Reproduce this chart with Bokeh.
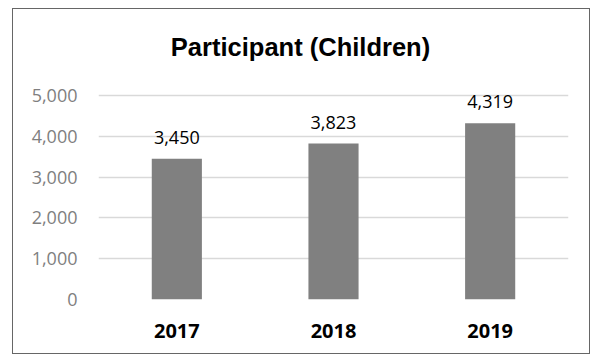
from bokeh.plotting import figure
from bokeh.models import ColumnDataSource, LabelSet, Label, NumeralTickFormatter, FixedTicker, Range1d
from bokeh.core.properties import value
from bokeh.embed import file_html
from bokeh.resources import INLINE

years = ["2017", "2018", "2019"]
participants = [3450, 3823, 4319]
labels = ["3,450", "3,823", "4,319"]
y_ticks = [0, 1000, 2000, 3000, 4000, 5000]
title_text = "Participant (Children)"

src = ColumnDataSource(dict(years=years, participants=participants, labels=labels))

# frame extends above the 5,000 gridline to leave room for the title (287 px tall, 5,000 at 204 px)
y_top = 5000 * 287 / 204

p = figure(x_range=years, y_range=Range1d(0, y_top), output_backend="svg", toolbar_location=None,
           frame_width=470, frame_height=287, min_border_left=85, min_border_right=21,
           min_border_top=3, min_border_bottom=54)
p.margin = (8, 0, 0, 12)
p.styles = {"border": "1px solid #666666"}
p.outline_line_color = None
p.background_fill_color = "white"
p.border_fill_color = "white"

title = Label(x=202, y=253, x_units="screen", y_units="screen", text=title_text,
              text_align="center", text_baseline="alphabetic", text_font="Liberation Sans",
              text_font_size="25.5px", text_font_style="bold", text_color="black")
p.add_layout(title)

p.vbar(x="years", top="participants", width=0.32, source=src, fill_color="#808080", line_color=None)

lab = LabelSet(x="years", y="participants", text="labels", source=src, text_align="center",
               text_baseline="alphabetic", y_offset=15, text_font=value("Open Sans"),
               text_font_size=value("18px"), text_color="black")
p.add_layout(lab)

p.yaxis.ticker = FixedTicker(ticks=y_ticks)
p.yaxis.formatter = NumeralTickFormatter(format="0,0")
p.yaxis.axis_line_color = None
p.yaxis.major_tick_line_color = None
p.yaxis.minor_tick_line_color = None
p.yaxis.major_tick_in = 0
p.yaxis.major_tick_out = 0
p.yaxis.major_label_standoff = 21
p.yaxis.major_label_text_font = "Open Sans"
p.yaxis.major_label_text_font_size = "18px"
p.yaxis.major_label_text_color = "#7f7f7f"

p.xaxis.axis_line_color = None
p.xaxis.major_tick_line_color = None
p.xaxis.major_tick_in = 0
p.xaxis.major_tick_out = 0
p.xaxis.major_label_standoff = 24
p.xaxis.major_label_text_font = "Open Sans"
p.xaxis.major_label_text_font_size = "20px"
p.xaxis.major_label_text_font_style = "bold"
p.xaxis.major_label_text_color = "black"

p.xgrid.grid_line_color = None
p.ygrid.grid_line_color = "#d9d9d9"
p.ygrid.grid_line_width = 1.5

open("out.html", "w").write(file_html(p, INLINE))
